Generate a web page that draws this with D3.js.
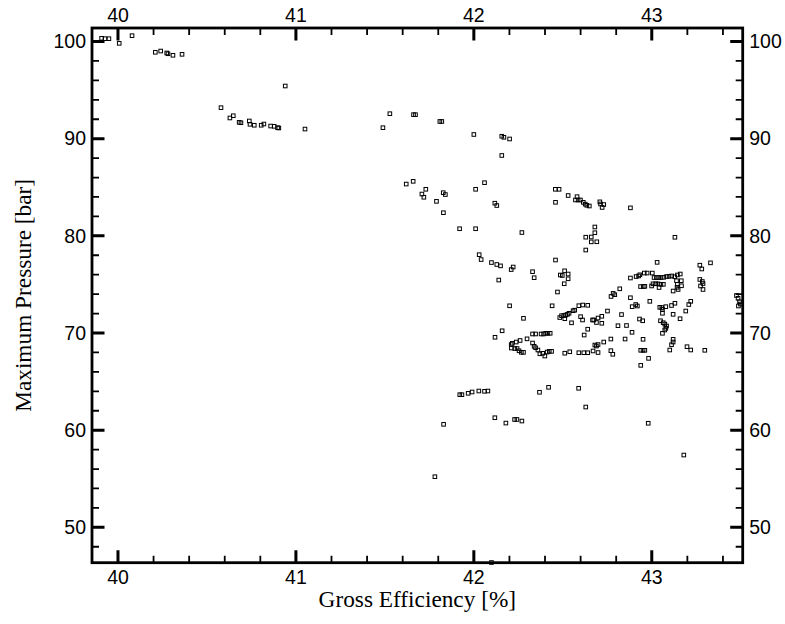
<!DOCTYPE html>
<html><head><meta charset="utf-8">
<script src="https://cdn.jsdelivr.net/npm/d3@7"></script>
<style>
html,body{margin:0;padding:0;background:#fff;}
svg{display:block;}
.tick-label{font-family:"Liberation Sans",Arial,sans-serif;font-size:19.5px;fill:#000;}
.title{font-family:"Liberation Serif","Times New Roman",serif;font-size:23.3px;fill:#000;}
</style>
</head><body>
<svg id="chart" width="785" height="624"></svg>
<script>
// Gross efficiency [%] (x) and maximum pressure [bar] (y)
const efficiency = [
39.908,39.927,39.949,40.007,40.079,40.210,40.240,40.274,40.281,40.309,40.360,40.940,40.579,40.629,40.648,40.681,40.691,40.738,40.742,40.766,40.805,40.820,40.858,40.878,40.897,40.904,41.051,
41.528,41.489,41.661,41.672,41.809,41.820,42.000,42.157,42.169,42.201,42.157,
41.620,41.659,41.730,41.708,41.719,41.790,41.828,41.840,41.829,42.010,42.060,42.118,42.129,41.920,42.010,42.270,42.458,42.479,42.530,42.580,42.571,42.586,42.599,42.459,42.615,42.626,42.635,42.649,42.708,42.712,42.721,42.730,42.880,42.680,42.680,42.629,42.660,42.660,42.691,42.629,43.130,
42.030,42.041,42.099,42.129,42.150,42.221,42.210,42.140,42.330,42.339,42.459,42.510,42.486,42.497,42.530,42.530,42.508,42.470,43.030,43.270,43.281,43.330,
42.880,42.912,42.926,42.933,42.958,42.974,43.003,43.013,43.026,43.039,43.052,43.067,43.083,43.097,43.112,43.129,43.144,43.160,43.139,43.166,
42.937,42.952,42.961,42.999,43.007,43.022,43.035,43.051,43.065,43.041,43.144,43.142,43.167,43.148,43.120,43.270,43.284,43.288,43.274,43.288,
42.820,42.783,42.792,42.771,42.880,43.476,43.485,43.493,43.498,43.487,
42.910,42.919,42.890,42.989,43.045,43.056,43.060,43.079,43.111,43.130,43.208,43.219,42.751,42.674,42.689,42.698,42.719,42.719,42.830,42.810,42.858,42.889,42.931,42.949,43.060,43.120,43.159,43.191,
43.049,43.064,43.073,43.083,43.079,43.073,43.060,43.120,43.120,43.111,43.101,42.951,42.850,42.770,42.730,42.680,42.698,42.689,42.670,42.698,42.770,42.781,42.938,42.951,42.961,42.982,42.938,43.198,43.219,43.298,
42.201,42.440,42.590,42.612,42.640,42.279,42.159,42.119,42.483,42.493,42.506,42.517,42.526,42.535,42.558,42.567,42.511,42.549,42.600,42.611,42.640,42.620,42.667,
42.330,42.347,42.378,42.392,42.404,42.416,42.429,42.299,42.260,42.238,42.216,42.210,42.211,42.230,42.243,42.254,42.267,42.279,
42.330,42.339,42.347,42.360,42.371,42.387,42.399,42.412,42.424,42.437,42.511,42.539,42.590,42.618,42.640,
41.921,41.933,41.968,41.990,42.028,42.060,42.079,42.369,42.420,42.589,42.629,42.118,42.180,42.229,42.242,42.270,41.830,42.980,43.180,41.781,42.099
];
const pressure = [
100.33,100.29,100.29,99.81,100.60,98.89,99.02,98.82,98.74,98.58,98.68,95.42,93.19,92.13,92.36,91.68,91.64,91.82,91.48,91.38,91.38,91.51,91.30,91.27,91.13,91.10,90.99,
92.57,91.13,92.47,92.47,91.77,91.77,90.43,90.25,90.14,89.97,88.27,
85.33,85.61,84.79,84.30,83.97,83.55,84.44,84.25,82.38,84.79,85.47,83.36,83.12,80.73,80.73,80.34,84.79,84.79,84.15,84.03,83.69,83.69,83.69,83.45,83.45,83.26,83.14,83.07,83.50,83.28,82.92,83.22,82.88,80.91,80.32,79.86,79.88,79.38,79.39,78.54,79.85,
78.06,77.56,77.25,77.05,76.91,76.79,76.53,75.45,76.31,75.69,77.51,76.40,75.97,75.92,76.07,75.58,75.07,74.22,77.27,76.98,76.59,77.22,
75.66,75.81,75.87,75.99,76.17,76.17,76.17,75.71,75.71,75.71,75.71,75.73,75.81,75.83,75.87,75.79,75.97,76.07,75.38,75.38,
74.78,74.78,74.80,74.84,75.06,75.07,75.06,75.01,75.01,74.68,75.01,74.70,74.86,74.48,74.32,75.51,75.30,75.09,74.84,74.48,
74.55,74.08,73.94,73.76,73.63,73.86,73.57,73.22,72.98,72.78,
72.93,72.78,72.71,73.26,72.64,72.62,72.44,72.71,72.83,73.06,72.93,73.26,72.26,71.34,71.08,71.54,71.72,71.00,71.90,70.75,70.77,70.07,71.44,71.26,72.03,71.92,71.47,72.26,
71.26,71.06,70.92,70.72,70.48,70.31,69.97,69.35,69.07,68.79,68.25,69.35,69.38,69.38,69.07,68.76,68.81,68.66,68.15,67.99,68.18,67.81,68.22,68.22,68.22,67.39,66.67,68.59,68.25,68.22,
72.80,72.80,72.81,72.88,72.85,71.51,70.23,69.56,71.59,71.78,71.80,71.85,71.92,72.03,72.29,72.35,71.47,71.05,71.68,71.34,70.39,69.79,71.34,
69.90,69.90,69.90,69.90,69.97,69.97,69.97,69.40,69.23,69.07,68.94,68.81,68.45,68.40,68.40,68.17,68.01,68.01,
68.97,68.63,68.48,68.25,67.86,67.91,67.63,68.04,68.11,68.11,67.92,68.07,67.97,67.97,67.97,
63.65,63.65,63.79,63.93,64.03,64.00,64.03,63.90,64.41,64.31,62.38,61.28,60.73,61.10,61.10,60.94,60.60,60.71,57.44,55.21,46.38
];
const xDomain = [39.854, 43.511];
const yDomain = [46.36, 101.39];
const xMajorTicks = [40, 41, 42, 43];
const xMinorTicks = [40.2,40.4,40.6,40.8,41.2,41.4,41.6,41.8,42.2,42.4,42.6,42.8,43.2,43.4];
const yMajorTicks = [50, 60, 70, 80, 90, 100];
const yMinorTicks = [48,52,54,56,58,62,64,66,68,72,74,76,78,82,84,86,88,92,94,96,98];
const xTitle = "Gross Efficiency [%]";
const yTitle = "Maximum Pressure [bar]";

const W = 785, H = 624;
const m = {left: 92, right: 42.3, top: 28, bottom: 61.3};
const svg = d3.select("#chart");
const x = d3.scaleLinear().domain(xDomain).range([m.left, W - m.right]);
const y = d3.scaleLinear().domain(yDomain).range([H - m.bottom, m.top]);
const x0 = m.left, x1 = W - m.right, y0 = H - m.bottom, y1 = m.top;

const data = efficiency.map((e, i) => ({e, p: pressure[i]}));

// points
svg.append("g").selectAll("rect.pt").data(data).join("rect").attr("class", "pt")
  .attr("x", d => x(d.e) - 1.8).attr("y", d => y(d.p) - 1.8)
  .attr("width", 3.6).attr("height", 3.6)
  .attr("fill", "none").attr("stroke", "#000").attr("stroke-width", 1);

// frame
svg.append("rect").attr("x", x0).attr("y", y1).attr("width", x1 - x0).attr("height", y0 - y1)
  .attr("fill", "none").attr("stroke", "#000").attr("stroke-width", 2.8);

// ticks (inward on all four sides)
const majorLen = 12.5, minorLen = 7;
const xPath = (vals, len) => vals.map(d => `M${x(d)},${y0}V${y0 - len}M${x(d)},${y1}V${y1 + len}`).join("");
const yPath = (vals, len) => vals.map(d => `M${x0},${y(d)}H${x0 + len}M${x1},${y(d)}H${x1 - len}`).join("");
svg.append("path").attr("d", xPath(xMajorTicks, majorLen) + yPath(yMajorTicks, majorLen))
  .attr("fill", "none").attr("stroke", "#000").attr("stroke-width", 3);
svg.append("path").attr("d", xPath(xMinorTicks, minorLen) + yPath(yMinorTicks, minorLen))
  .attr("fill", "none").attr("stroke", "#000").attr("stroke-width", 1.8);

// tick labels
const lab = svg.append("g");
lab.selectAll("text.xb").data(xMajorTicks).join("text").attr("class","tick-label xb")
  .attr("x", d => x(d)).attr("y", y0 + 21).attr("text-anchor", "middle").text(d => d);
lab.selectAll("text.xt").data(xMajorTicks).join("text").attr("class","tick-label xt")
  .attr("x", d => x(d)).attr("y", y1 - 6.5).attr("text-anchor", "middle").text(d => d);
lab.selectAll("text.yl").data(yMajorTicks).join("text").attr("class","tick-label yl")
  .attr("x", x0 - 6).attr("y", d => y(d)).attr("dy", "0.35em").attr("text-anchor", "end").text(d => d);
lab.selectAll("text.yr").data(yMajorTicks).join("text").attr("class","tick-label yr")
  .attr("x", x1 + 6.5).attr("y", d => y(d)).attr("dy", "0.35em").attr("text-anchor", "start").text(d => d);

// titles
svg.append("text").attr("class", "title").attr("x", (x0 + x1) / 2).attr("y", 607)
  .attr("text-anchor", "middle").text(xTitle);
svg.append("text").attr("class", "title")
  .attr("transform", `translate(31,${(y0 + y1) / 2}) rotate(-90)`)
  .attr("text-anchor", "middle").text(yTitle);
</script>
</body></html>
